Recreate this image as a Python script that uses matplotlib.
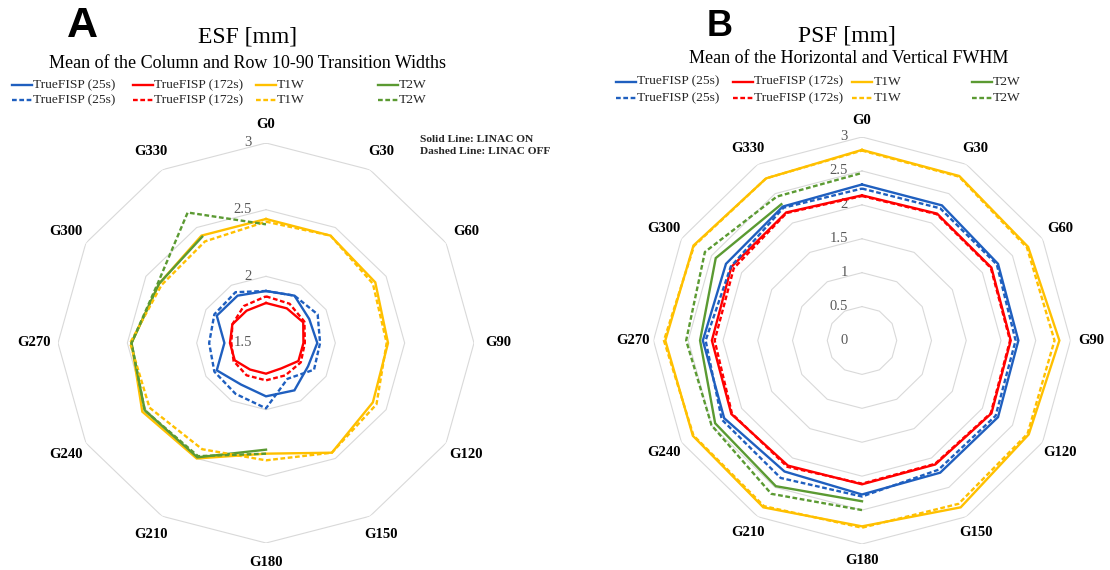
import numpy as np
import matplotlib
matplotlib.use('Agg')
import matplotlib.pyplot as plt
import matplotlib.transforms as mtransforms
from matplotlib.lines import Line2D

nan = np.nan

# ── Data ──────────────────────────────────────────────────────────────────────
gantry = ['G0', 'G30', 'G60', 'G90', 'G120', 'G150',
          'G180', 'G210', 'G240', 'G270', 'G300', 'G330']

# A: ESF, mean of column/row 10-90 transition widths [mm]
esf_tf25_on   = [1.89, 1.91, 1.86, 1.87, 1.85, 1.91, 1.90, 1.86, 1.91, 1.80, 1.91, 1.91]
esf_tf25_off  = [1.89, 1.91, 1.93, 1.89, 1.90, 1.81, 1.99, 1.94, 1.93, 1.91, 1.93, 1.94]
esf_tf172_on  = [1.80, 1.80, 1.81, 1.77, 1.77, 1.72, 1.73, 1.73, 1.76, 1.76, 1.78, 1.78]
esf_tf172_off = [1.85, 1.84, 1.82, 1.78, 1.79, 1.78, 1.78, 1.78, 1.77, 1.75, 1.78, 1.82]
esf_t1w_on    = [2.43, 2.43, 2.41, 2.38, 2.39, 2.45, 2.33, 2.50, 2.53, 2.47, 2.39, 2.43]
esf_t1w_off   = [2.41, 2.43, 2.39, 2.37, 2.42, 2.45, 2.38, 2.42, 2.47, 2.48, 2.37, 2.38]
esf_t2w_on    = [nan, nan, nan, nan, nan, nan, 2.30, 2.49, 2.51, 2.47, 2.39, 2.42]
esf_t2w_off   = [2.39, nan, nan, nan, nan, nan, 2.33, 2.48, 2.51, 2.47, 2.40, 2.63]

# B: PSF, mean of horizontal/vertical FWHM [mm]
psf_tf25_on   = [2.30, 2.30, 2.26, 2.25, 2.26, 2.25, 2.27, 2.23, 2.29, 2.29, 2.26, 2.28]
psf_tf25_off  = [2.24, 2.25, 2.24, 2.21, 2.22, 2.20, 2.30, 2.34, 2.33, 2.25, 2.18, 2.26]
psf_tf172_on  = [2.14, 2.16, 2.15, 2.14, 2.15, 2.11, 2.12, 2.13, 2.17, 2.16, 2.17, 2.18]
psf_tf172_off = [2.13, 2.15, 2.14, 2.13, 2.14, 2.10, 2.11, 2.15, 2.16, 2.12, 2.13, 2.17]
psf_t1w_on    = [2.81, 2.80, 2.76, 2.84, 2.77, 2.84, 2.74, 2.84, 2.81, 2.83, 2.80, 2.76]
psf_t1w_off   = [2.80, 2.79, 2.74, 2.77, 2.75, 2.78, 2.76, 2.82, 2.80, 2.85, 2.79, 2.76]
psf_t2w_on    = [nan, nan, nan, nan, nan, nan, 2.37, 2.48, 2.44, 2.33, 2.43, 2.32]
psf_t2w_off   = [2.47, nan, nan, nan, nan, nan, 2.50, 2.61, 2.50, 2.53, 2.61, 2.45]

series_names = ['TrueFISP (25s)', 'TrueFISP (172s)', 'T1W', 'T2W']
colors = ['#1F5FBF', '#FF0000', '#FFC000', '#5B9A32']

esf_on  = [esf_tf25_on, esf_tf172_on, esf_t1w_on, esf_t2w_on]
esf_off = [esf_tf25_off, esf_tf172_off, esf_t1w_off, esf_t2w_off]
psf_on  = [psf_tf25_on, psf_tf172_on, psf_t1w_on, psf_t2w_on]
psf_off = [psf_tf25_off, psf_tf172_off, psf_t1w_off, psf_t2w_off]

esf_rings = [2.0, 2.5, 3.0]
esf_ring_labels = ['1.5', '2', '2.5', '3']
psf_rings = [0.5, 1.0, 1.5, 2.0, 2.5, 3.0]
psf_ring_labels = ['0', '0.5', '1', '1.5', '2', '2.5', '3']

# ── Style ─────────────────────────────────────────────────────────────────────
SERIF = 'Liberation Serif'
SANS = 'Liberation Sans'
DASH = (0, (2.0, 1.1))
LW = 1.7
GRID = '#D9D9D9'

W, H = 1110, 570
fig = plt.figure(figsize=(W / 100, H / 100), dpi=100)


def fx(px):
    return px / W


def fy(py):
    return 1 - py / H


theta = np.deg2rad(np.arange(0, 360, 30))
theta_c = np.append(theta, theta[0])


def closed(v):
    v = np.asarray(v, dtype=float)
    return np.append(v, v[0])


def radar(cx, cy, rx, ry, rmin, rmax, rings, ring_labels, on, off, lab_frac):
    ax = fig.add_axes([fx(cx - rx), fy(cy + ry), 2 * rx / W, 2 * ry / H],
                      projection='polar')
    ax.set_aspect('auto')
    ax.set_theta_zero_location('N')
    ax.set_theta_direction(-1)
    ax.set_ylim(rmin, rmax)
    ax.set_xticks([])
    ax.set_yticks([])
    ax.grid(False)
    ax.spines['polar'].set_visible(False)

    # polygonal grid
    for v in rings:
        ax.plot(theta_c, [v] * len(theta_c), color=GRID, lw=0.8, zorder=1)

    # radial value labels along the top spoke
    tr = mtransforms.offset_copy(ax.transData, fig=fig, x=-14, y=0, units='dots')
    for v, s in zip([rmin] + rings, ring_labels):
        ax.text(0, v, s, transform=tr, ha='right', va='center',
                fontsize=10.5, family=SERIF, color='#595959')

    # data
    for vals, c in zip(on, colors):
        ax.plot(theta_c, closed(vals), color=c, lw=LW, zorder=3,
                solid_joinstyle='miter')
    for vals, c in zip(off, colors):
        ax.plot(theta_c, closed(vals), color=c, lw=LW, ls=DASH, zorder=3)

    # category labels
    for th, g in zip(theta, gantry):
        f = lab_frac + 0.02 * abs(np.sin(th))
        ax.text(th, rmin + f * (rmax - rmin), g, ha='center', va='center',
                fontsize=10.5, family=SERIF, fontweight='bold')
    return ax


radar(266, 343, 208, 200, 1.5, 3.0, esf_rings, esf_ring_labels,
      esf_on, esf_off, 1.095)
radar(862, 340.5, 208.5, 203.5, 0.0, 3.0, psf_rings, psf_ring_labels,
      psf_on, psf_off, 1.08)


# ── Titles ────────────────────────────────────────────────────────────────────
fig.text(fx(82.5), fy(26), 'A', fontsize=31, family=SANS, fontweight='bold',
         ha='center', va='center')
fig.text(fx(720), fy(26.3), 'B', fontsize=26, family=SANS, fontweight='bold',
         ha='center', va='center')

fig.text(fx(247.5), fy(42.7), 'ESF [mm]', fontsize=17, family=SERIF,
         ha='center', va='baseline')
fig.text(fx(847), fy(41.7), 'PSF [mm]', fontsize=17, family=SERIF,
         ha='center', va='baseline')
fig.text(fx(247.5), fy(68.3), 'Mean of the Column and Row 10-90 Transition Widths',
         fontsize=13, family=SERIF, ha='center', va='baseline')
fig.text(fx(848.3), fy(63.3), 'Mean of the Horizontal and Vertical FWHM',
         fontsize=13, family=SERIF, ha='center', va='baseline')

fig.text(fx(420), fy(139), 'Solid Line: LINAC ON', fontsize=8.2, family=SERIF,
         fontweight='bold', ha='left', va='center', color='#262626')
fig.text(fx(420), fy(152), 'Dashed Line: LINAC OFF', fontsize=8.2, family=SERIF,
         fontweight='bold', ha='left', va='center', color='#262626')


# ── Legends (four equal columns, solid row over dashed row) ───────────────────
def legend(col_x, row_y):
    for x0, name, c in zip(col_x, series_names, colors):
        for y0, ls in zip(row_y, ['-', DASH]):
            fig.add_artist(Line2D([fx(x0), fx(x0 + 20)], [fy(y0), fy(y0)],
                                  color=c, lw=LW, ls=ls))
            fig.text(fx(x0 + 21), fy(y0), name, fontsize=9.7, family=SERIF,
                     ha='left', va='center', color='#262626')


legend([11.7, 133.3, 255.7, 377.7], [85, 100])
legend([616, 733.3, 852.3, 971.7], [81.7, 98.3])

fig.savefig('out.png', dpi=100)
